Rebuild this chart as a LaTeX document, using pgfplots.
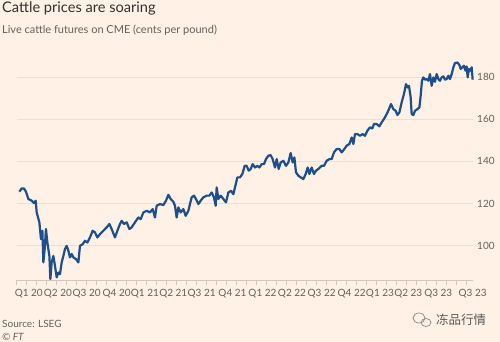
\documentclass[border=0pt]{standalone}
\usepackage{fontspec}
\setmainfont{Lato}
\newfontfamily\cjk{Noto Sans CJK SC}
\usepackage{pgfplots}
\pgfplotsset{compat=1.18}
\definecolor{ftbg}{HTML}{FFF1E5}
\definecolor{ftline}{HTML}{1D4F8C}
\definecolor{ftgrid}{HTML}{EDE0D3}
\definecolor{fttick}{HTML}{D3C6BA}
\definecolor{fttext}{HTML}{66605C}
\definecolor{fttitle}{HTML}{33302E}
\begin{document}
\begin{tikzpicture}[x=1pt,y=1pt]
\fill[ftbg] (0,0) rectangle (500,342);
\path[use as bounding box] (0,0) rectangle (500,342);
\node[anchor=base west, text=fttitle, font=\fontsize{14.6}{14.6}\selectfont, inner sep=0pt] at (2,329) {Cattle prices are soaring};
\node[anchor=base west, text=fttext, font=\fontsize{11}{11}\selectfont, inner sep=0pt] at (2,308) {Live cattle futures on CME (cents per pound)};
\node[anchor=base west, text=fttext, font=\fontsize{10}{10}\selectfont, inner sep=0pt] at (2,14) {Source: LSEG};
\node[anchor=base west, text=fttext, font=\fontsize{10}{10}\selectfont\itshape, inner sep=0pt] at (2,1.5) {© FT};
\node[anchor=center, text=black!65, font=\cjk\fontsize{12.5}{12.5}\selectfont, inner sep=0pt] at (461,22.5) {冻品行情};
\begin{scope}[black!45, line width=0.7pt]
\draw (419,24) ellipse (6 and 5);
\draw (426,19.5) ellipse (5 and 4);
\end{scope}
\begin{axis}[
  at={(16.67pt,61.5pt)}, anchor=south west,
  scale only axis, width=456pt, height=224.1pt,
  xmin=0, xmax=45.6, ymin=83.3, ymax=190,
  separate axis lines,
  axis x line*=bottom, axis y line*=right,
  y axis line style={draw=none},
  x axis line style={draw=fttick, line width=0.8pt},
  ytick={100,120,140,160,180},
  ymajorgrids, grid style={draw=ftgrid, line width=0.8pt},
  xtick={1.21,4.13,7.0,10.0,12.83,15.66,18.5,21.58,24.58,27.53,30.5,33.5,36.33,39.16,42.16,45.6},
  xticklabels={Q1 20,Q2 20,Q3 20,Q4 20,Q1 21,Q2 21,Q3 21,Q4 21,Q1 22,Q2 22,Q3 22,Q4 22,Q1 23,Q2 23,Q3 23,Q3 23},
  minor xtick={0,1,...,45},
  major tick length=0pt, minor tick length=5pt,
  tick align=outside,
  xtick style={draw=fttick, line width=0.6pt},
  ytick style={draw=none},
  /pgf/number format/assume math mode=true,
  ticklabel style={font=\fontsize{10}{10}\selectfont, text=fttext},
  xticklabel style={yshift=-5pt},
  yticklabel style={anchor=west, xshift=1pt},
  clip=false,
]
\addplot[ftline, line width=2.2pt, line join=round] table {
x y
0.27 125.6
0.50 127.1
0.73 127.1
0.93 125.6
1.17 122.1
1.50 121.3
1.73 120.2
1.90 121.3
2.00 115.7
2.27 111.0
2.43 103.0
2.57 107.0
2.67 91.9
2.80 98.3
2.93 107.8
3.07 101.4
3.27 95.0
3.37 84.0
3.50 91.9
3.67 95.0
3.83 90.3
4.00 84.8
4.17 87.1
4.33 86.3
4.50 91.9
4.67 95.0
4.83 98.3
5.00 99.8
5.17 97.5
5.33 94.3
5.50 95.9
5.67 94.3
5.93 93.5
6.17 91.9
6.33 99.8
6.60 100.6
6.83 102.2
7.07 101.4
7.33 103.8
7.60 107.0
7.83 106.2
8.07 103.8
8.33 105.4
8.67 107.0
9.00 108.6
9.27 110.2
9.50 107.8
9.83 103.8
10.07 107.0
10.33 110.2
10.50 111.7
10.73 110.2
11.00 111.0
11.27 107.8
11.50 108.6
11.83 111.0
12.17 113.3
12.40 112.5
12.67 115.7
13.00 116.5
13.33 115.7
13.60 117.3
13.83 113.3
14.00 118.9
14.33 119.7
14.67 119.2
14.93 121.3
15.17 124.1
15.40 122.1
15.67 120.8
15.83 118.9
16.00 113.3
16.17 118.1
16.40 115.7
16.67 117.3
16.90 114.1
17.17 116.5
17.33 119.7
17.50 122.9
17.73 123.7
17.93 122.1
18.17 119.7
18.40 121.3
18.67 122.9
19.00 123.7
19.27 123.7
19.50 125.2
19.73 122.9
19.90 118.9
20.00 127.6
20.17 122.1
20.40 123.7
20.67 122.1
20.93 120.5
21.17 125.2
21.43 126.0
21.67 124.4
21.87 128.4
22.07 132.4
22.33 132.4
22.57 134.0
22.80 137.9
23.00 137.9
23.20 135.6
23.40 136.4
23.60 138.7
23.83 137.1
24.07 137.9
24.27 137.1
24.50 138.7
24.73 138.7
24.93 141.1
25.17 142.7
25.40 143.0
25.60 141.1
25.83 137.1
26.00 141.1
26.20 136.4
26.40 139.5
26.67 140.3
26.93 137.9
27.17 139.5
27.40 144.0
27.60 139.5
27.77 141.9
27.93 134.8
28.17 133.2
28.40 132.4
28.67 131.6
28.90 134.0
29.10 137.1
29.27 134.0
29.50 137.1
29.73 134.0
29.93 135.6
30.17 136.4
30.50 137.9
30.73 137.9
31.00 140.3
31.27 141.1
31.50 141.1
31.73 144.3
32.00 145.9
32.27 145.9
32.50 144.3
32.77 145.9
33.00 147.5
33.27 148.3
33.50 151.4
33.67 148.3
33.83 153.0
34.07 153.0
34.33 152.2
34.60 153.0
34.83 152.2
35.07 154.6
35.33 156.2
35.57 155.7
35.73 157.8
36.00 157.8
36.27 156.7
36.50 158.6
36.73 160.2
37.00 162.5
37.23 164.9
37.43 167.3
37.67 164.9
37.90 164.1
38.07 162.1
38.27 163.3
38.50 168.1
38.73 172.1
38.93 176.8
39.10 175.2
39.23 176.0
39.40 170.5
39.50 162.5
39.67 162.1
39.83 164.1
40.00 164.6
40.27 165.7
40.40 171.3
40.53 178.4
40.67 180.0
40.83 178.9
41.00 179.2
41.17 178.4
41.33 181.6
41.50 176.0
41.67 180.0
41.83 177.9
42.00 181.6
42.17 179.2
42.33 178.4
42.50 180.0
42.67 180.5
42.83 178.9
43.00 179.2
43.17 180.8
43.33 179.2
43.50 181.6
43.67 184.8
43.83 186.8
44.07 187.1
44.27 185.9
44.40 184.0
44.57 184.8
44.73 185.6
44.87 183.2
45.00 185.2
45.10 180.0
45.23 184.0
45.37 183.2
45.50 184.8
45.60 178.9
};
\end{axis}
\end{tikzpicture}
\end{document}
